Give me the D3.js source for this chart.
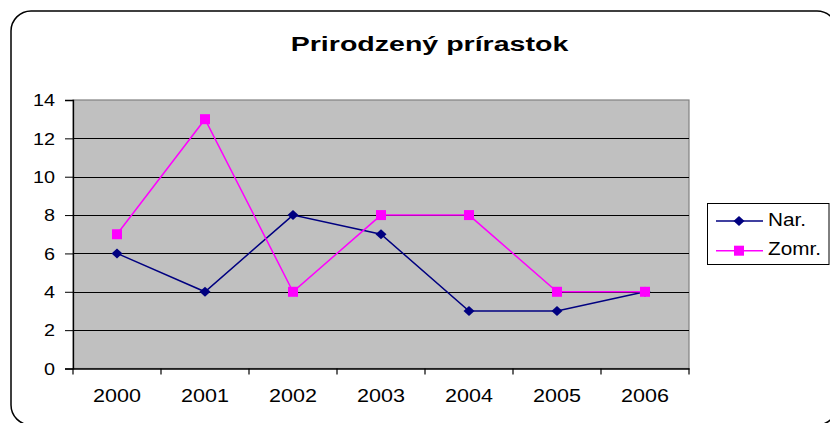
<!DOCTYPE html>
<html>
<head>
<meta charset="utf-8">
<script src="https://cdn.jsdelivr.net/npm/d3@7"></script>
<style>
  body { margin: 0; background: #fff; }
  text { font-family: "Liberation Sans", Arial, sans-serif; }
</style>
</head>
<body>
<svg id="chart" width="830" height="423"></svg>
<script>
// data
var years = ["2000","2001","2002","2003","2004","2005","2006"];
var narValues = [6, 4, 8, 7, 3, 3, 4];
var zomrValues = [7, 13, 4, 8, 8, 4, 4];
var seriesNames = ["Nar.", "Zomr."];
var yTicks = [0, 2, 4, 6, 8, 10, 12, 14];

var svg = d3.select("#chart");
var FONT = "'Liberation Sans', Arial, sans-serif";

// outer rounded frame (runs off the right/bottom edge)
svg.append("rect")
  .attr("x", 11).attr("y", 11)
  .attr("width", 826).attr("height", 414)
  .attr("rx", 20).attr("ry", 20)
  .attr("fill", "none").attr("stroke", "#000").attr("stroke-width", 1.5);

// title, the source text is stretched horizontally
svg.append("text")
  .attr("transform", "translate(429.5,51) scale(1.36,1)")
  .attr("text-anchor", "middle")
  .attr("font-size", 21).attr("font-weight", "bold")
  .text("Prirodzený prírastok");

var plot = {left: 73, top: 100, right: 689, bottom: 368.5};

var x = d3.scaleBand().domain(years).range([plot.left, plot.right]);
var y = d3.scaleLinear().domain([0, 14]).range([plot.bottom, plot.top]);

var g = svg.append("g");

// plot background
g.append("rect")
  .attr("x", plot.left).attr("y", plot.top)
  .attr("width", plot.right - plot.left).attr("height", plot.bottom - plot.top)
  .attr("fill", "#c0c0c0").attr("stroke", "#808080").attr("stroke-width", 1.2);

// gridlines
g.selectAll(".grid").data(yTicks.filter(d => d > 0 && d < 14)).enter()
  .append("line")
  .attr("x1", plot.left).attr("x2", plot.right)
  .attr("y1", d => Math.round(y(d)) + 0.5).attr("y2", d => Math.round(y(d)) + 0.5)
  .attr("stroke", "#000").attr("stroke-width", 1);

var sx = 1.2;

// y axis
var yAxis = d3.axisLeft(y).tickValues(yTicks).tickSize(8);
var yg = g.append("g").attr("transform", "translate(" + plot.left + ",0)").call(yAxis);
yg.select(".domain").attr("stroke", "#000").attr("stroke-width", 1.3);
yg.selectAll("text")
  .attr("font-size", 16.5).attr("fill", "#000").attr("font-family", FONT)
  .attr("x", -18 / sx).attr("dy", "0.35em")
  .attr("transform", "scale(" + sx + ",1)");

// x axis: ticks at category boundaries
var xAxis = d3.axisBottom(x).tickSize(0).tickPadding(21);
var xg = g.append("g").attr("transform", "translate(0," + plot.bottom + ")").call(xAxis);
xg.select(".domain").attr("stroke", "#000").attr("stroke-width", 1.3);
xg.selectAll("text")
  .attr("font-size", 17.5).attr("fill", "#000").attr("font-family", FONT)
  .attr("transform", "scale(" + 1.23 + ",1)");
g.selectAll(".xtick").data(years.concat(["end"])).enter()
  .append("line")
  .attr("x1", (d, i) => i < years.length ? x(d) : plot.right)
  .attr("x2", (d, i) => i < years.length ? x(d) : plot.right)
  .attr("y1", plot.bottom).attr("y2", plot.bottom + 6)
  .attr("stroke", "#000").attr("stroke-width", 1.2);

var series = [
  {name: seriesNames[0], values: narValues, color: "#000080", marker: "diamond"},
  {name: seriesNames[1], values: zomrValues, color: "#ff00ff", marker: "square"}
];

var line = d3.line()
  .x((d, i) => x(years[i]) + x.bandwidth() / 2)
  .y(d => y(d));

function drawMarker(sel, type, color) {
  if (type === "diamond") {
    sel.append("path").attr("d", "M0,-5L5.5,0L0,5L-5.5,0Z").attr("fill", color);
  } else {
    sel.append("rect").attr("x", -5).attr("y", -5).attr("width", 10).attr("height", 10).attr("fill", color);
  }
}

series.forEach(function(s) {
  g.append("path").datum(s.values)
    .attr("d", line).attr("fill", "none")
    .attr("stroke", s.color).attr("stroke-width", 1.5);
  g.selectAll(".m-" + s.marker).data(s.values).enter()
    .append("g")
    .attr("transform", (d, i) => "translate(" + (x(years[i]) + x.bandwidth() / 2) + "," + y(d) + ")")
    .each(function() { drawMarker(d3.select(this), s.marker, s.color); });
});

// legend
var legend = svg.append("g");
legend.append("rect")
  .attr("x", 707.5).attr("y", 203.5).attr("width", 121.5).attr("height", 61)
  .attr("fill", "#fff").attr("stroke", "#000").attr("stroke-width", 1);
series.forEach(function(s, i) {
  var ly = 221 + i * 29.7;
  var lg = legend.append("g");
  lg.append("line").attr("x1", 716).attr("x2", 763).attr("y1", ly).attr("y2", ly)
    .attr("stroke", s.color).attr("stroke-width", 1.5);
  var mg = lg.append("g").attr("transform", "translate(739," + ly + ")");
  drawMarker(mg, s.marker, s.color);
  lg.append("text")
    .attr("transform", "translate(768," + (ly + 4.5) + ") scale(1.12,1)")
    .attr("font-size", 18.5).text(s.name);
});
</script>
</body>
</html>
